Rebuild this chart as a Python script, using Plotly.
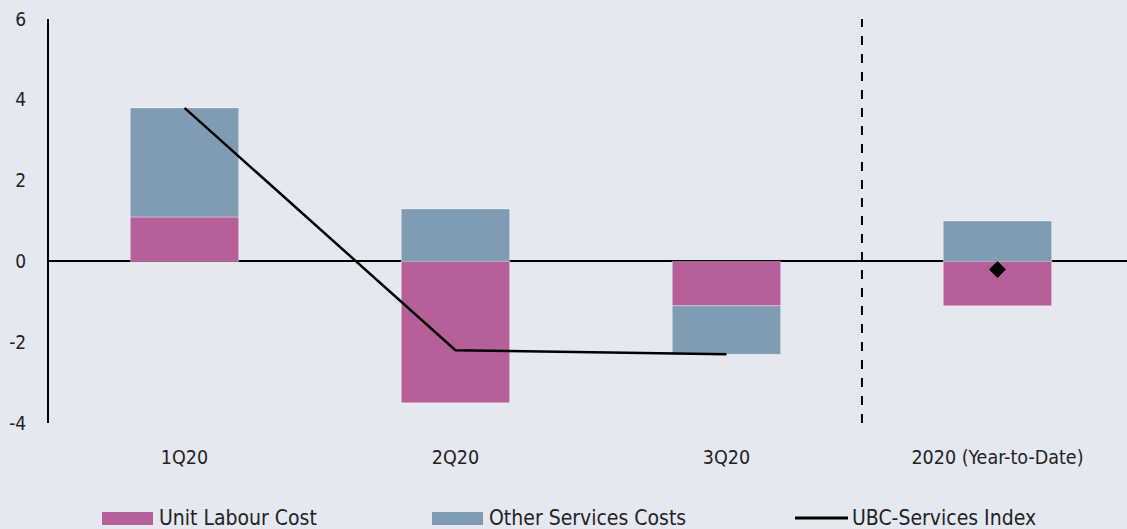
import plotly.graph_objects as go

# Quarterly contributions to services cost growth (percentage points)
categories = ["1Q20", "2Q20", "3Q20", "2020 (Year-to-Date)"]
unit_labour_cost = [1.1, -3.5, -1.1, -1.1]
other_services_costs = [2.7, 1.3, -1.2, 1.0]
ubc_index_quarters = ["1Q20", "2Q20", "3Q20"]
ubc_index_values = [3.8, -2.2, -2.3]
ubc_index_ytd = [-0.2]
y_ticks = [-4, -2, 0, 2, 4, 6]
y_tick_labels = ["-4", "-2", "0", "2", "4", "6"]

PINK = "#B75F99"
BLUE = "#7F9CB2"
BG = "#E5E8F0"
FONT = "DejaVu Sans Condensed"
TEXT = "#222222"

W, H = 1127, 529
ML, MR, MT, MB = 49, 0, 19, 106
PW, PH = W - ML - MR, H - MT - MB


def px_x(px):
    return (px - ML) / PW


def px_y(py):
    return (H - MB - py) / PH


fig = go.Figure()
fig.add_trace(go.Bar(
    x=categories, y=unit_labour_cost, name="Unit Labour Cost",
    marker=dict(color=PINK, line=dict(color="rgba(255,255,255,0.35)", width=1)),
    width=0.4,
))
fig.add_trace(go.Bar(
    x=categories, y=other_services_costs, name="Other Services Costs",
    marker=dict(color=BLUE, line=dict(color="rgba(255,255,255,0.35)", width=1)),
    width=0.4,
))
fig.add_trace(go.Scatter(
    x=ubc_index_quarters, y=ubc_index_values, name="UBC-Services Index",
    mode="lines", line=dict(color="black", width=2.5),
))
fig.add_trace(go.Scatter(
    x=categories[3:], y=ubc_index_ytd, mode="markers", showlegend=False,
    marker=dict(symbol="diamond", size=13, color="black"),
))

# Separator between quarterly figures and the year-to-date total
fig.add_shape(type="line", xref="x", yref="y", x0=2.5, x1=2.5, y0=-4, y1=6,
              line=dict(color="black", width=2, dash="dash"))

# Custom legend along the bottom
legend_items = [
    ("Unit Labour Cost", "box", PINK, 102),
    ("Other Services Costs", "box", BLUE, 432),
    ("UBC-Services Index", "line", "black", 795),
]
for label, kind, color, px in legend_items:
    x0, x1 = px_x(px), px_x(px + 51)
    if kind == "box":
        fig.add_shape(type="rect", xref="paper", yref="paper",
                      x0=x0, x1=x1, y0=px_y(525), y1=px_y(512),
                      fillcolor=color, line=dict(width=0))
    else:
        fig.add_shape(type="line", xref="paper", yref="paper",
                      x0=x0, x1=x1 + 2 / PW, y0=px_y(518), y1=px_y(518),
                      line=dict(color=color, width=3))
    fig.add_annotation(xref="paper", yref="paper", x=px_x(px + 55), y=px_y(518),
                       text=label, showarrow=False, xanchor="left", yanchor="middle",
                       font=dict(family=FONT, size=21, color=TEXT))

fig.update_layout(
    width=W, height=H,
    barmode="relative", bargap=0.6,
    paper_bgcolor=BG, plot_bgcolor=BG,
    margin=dict(l=ML, r=MR, t=MT, b=MB),
    showlegend=False,
    font=dict(family=FONT, size=19.5, color=TEXT),
)
fig.update_xaxes(
    type="category", range=[-0.5, 3.478], showgrid=False, showline=False,
    ticks="outside", ticklen=17, tickcolor="rgba(0,0,0,0)",
    tickfont=dict(family=FONT, size=19.5, color=TEXT),
)
fig.update_yaxes(
    range=[-4, 6], tickvals=y_ticks, ticktext=y_tick_labels, showgrid=False,
    showline=True, linecolor="black", linewidth=2,
    zeroline=True, zerolinecolor="black", zerolinewidth=2,
    ticks="outside", ticklen=17, tickcolor="rgba(0,0,0,0)",
    tickfont=dict(family=FONT, size=19, color=TEXT),
)

fig.write_html("out.html")
